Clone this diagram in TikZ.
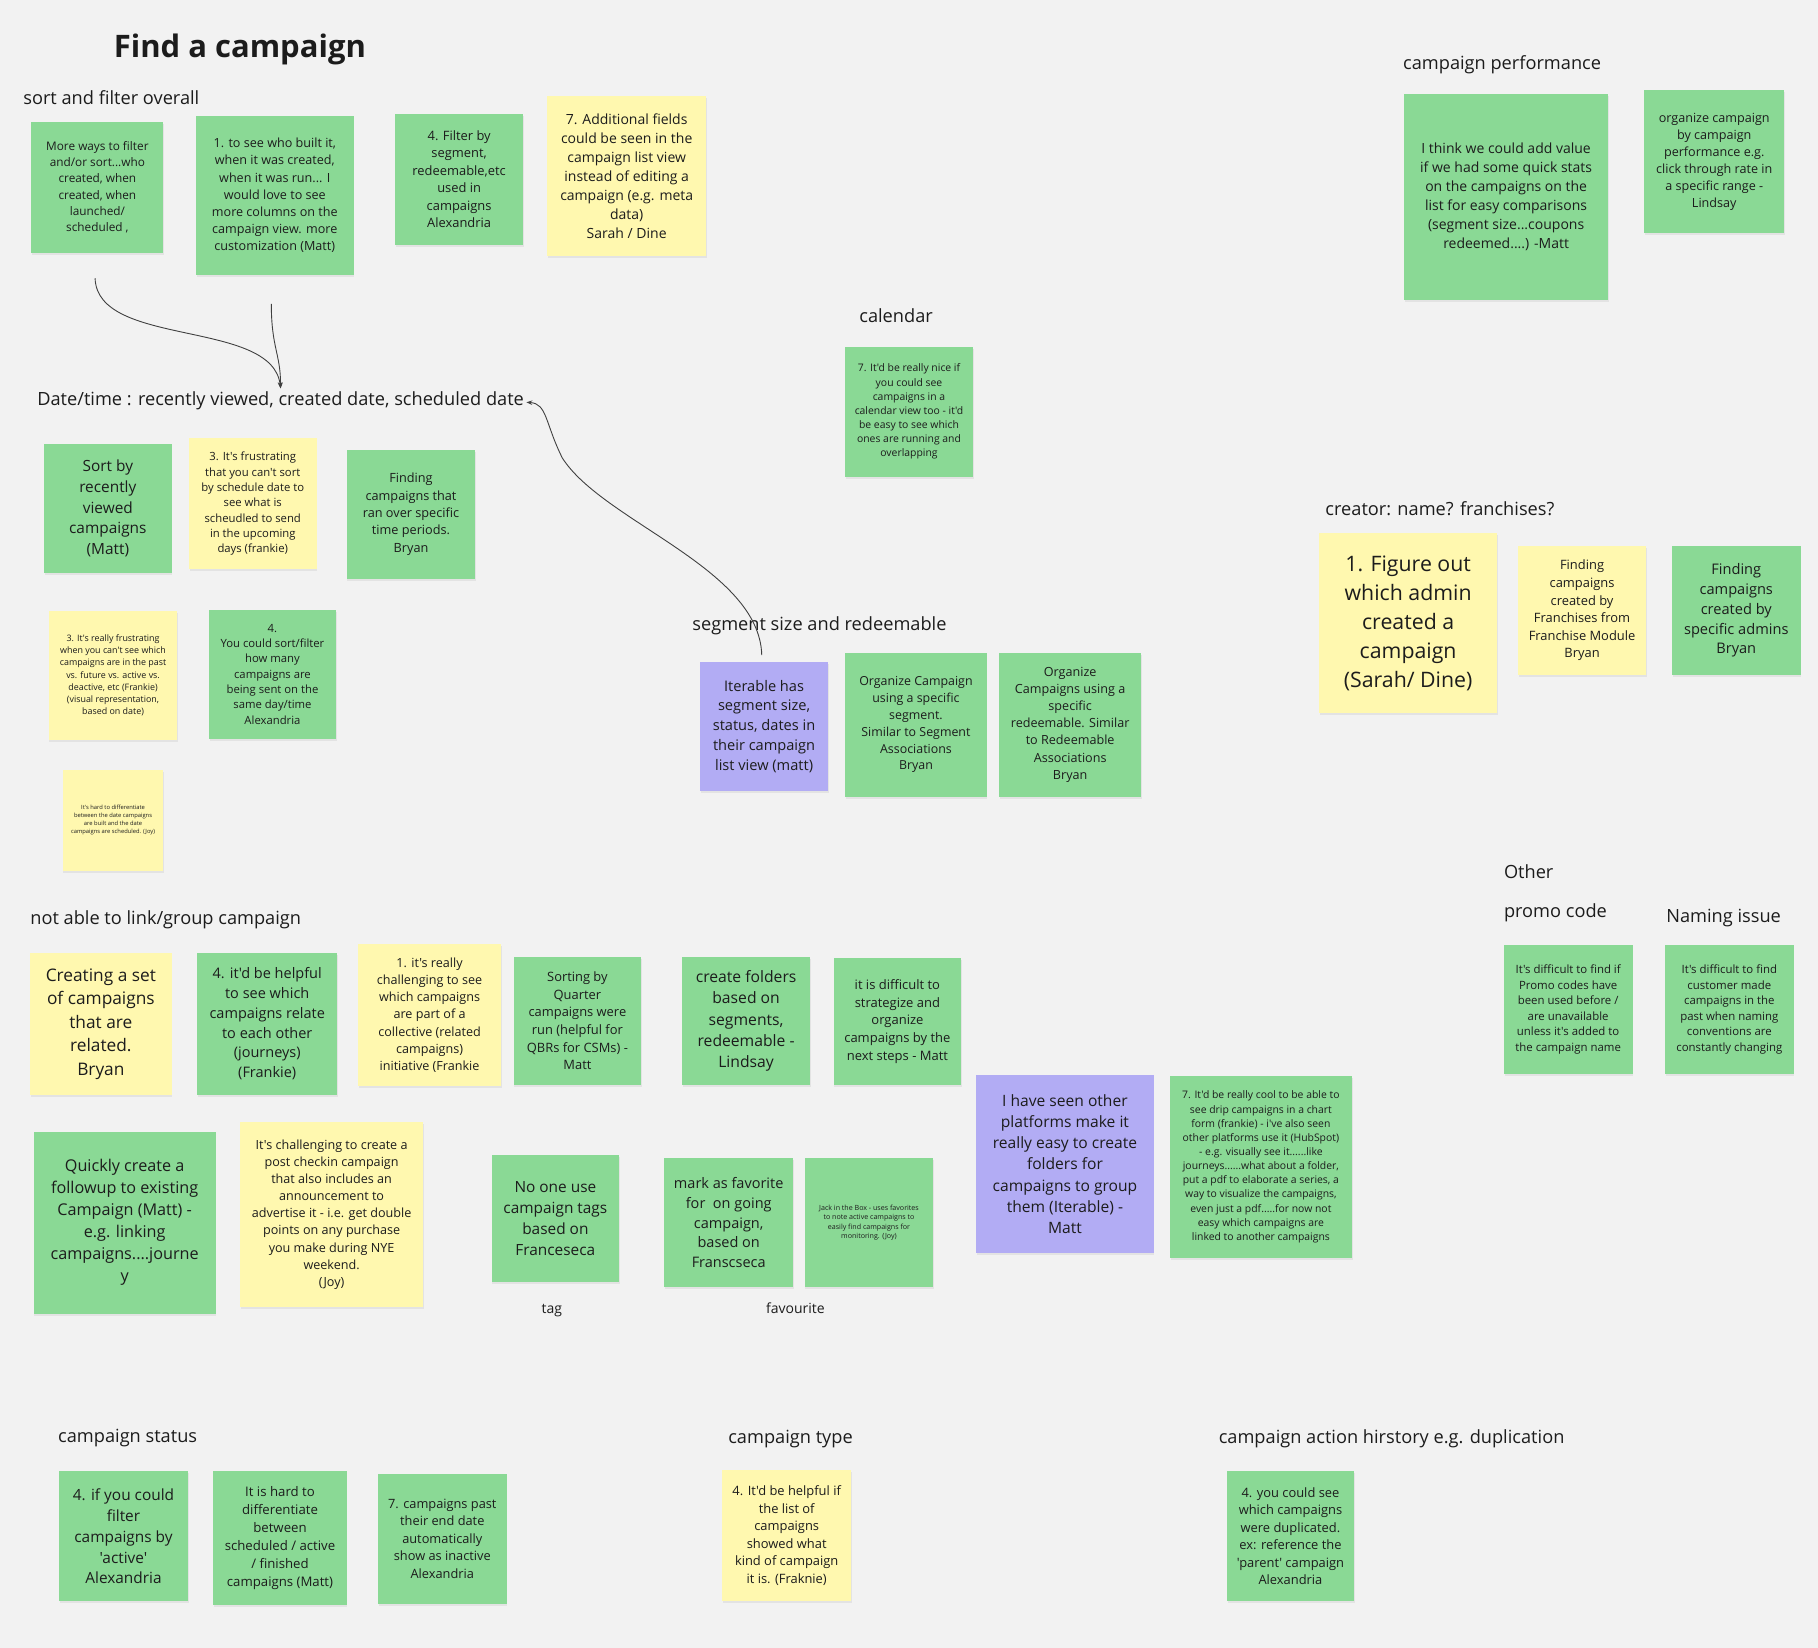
\documentclass[tikz,border=0pt]{standalone}
\usepackage{fontspec}
\setmainfont{Open Sans}[Ligatures=TeXOff]
\usetikzlibrary{shadows,arrows.meta}
\definecolor{bg}{HTML}{F2F2F2}
\definecolor{gs}{HTML}{8AD995}
\definecolor{ys}{HTML}{FFF8AF}
\definecolor{ps}{HTML}{B2ACF4}
\definecolor{ink}{HTML}{1C1C1C}
\tikzset{
  stickybox/.style={rectangle, inner sep=0pt, align=center, text=ink,
    drop shadow={shadow xshift=0.8pt, shadow yshift=-2pt, opacity=0.13}},
  hdr/.style={anchor=base west, inner sep=0pt, text=ink},
  conn/.style={draw=black!75, line width=0.9pt, -{Stealth[length=6pt,width=4.5pt]}},
}
\newcommand\sticky[8]{%
  \pgfmathsetmacro\stw{(#5-#3)*1.1594}%
  \pgfmathsetmacro\sth{(#6-#4)*1.1594}%
  \pgfmathsetmacro\stb{#7*1.36}%
  \node[stickybox, fill=#2, minimum width=\stw pt, minimum height=\sth pt,
    font=\fontsize{#7}{\stb}\selectfont] (#1) at ({(#3+#5)/2},{(#4+#6)/2}) {#8};%
}
\newcommand\hd[5]{%
  \node[hdr, font=\fontsize{#4}{#4}\selectfont] (#1) at (#2,#3) {#5};%
}
\begin{document}
\begin{tikzpicture}[x=1.1594pt, y=-1.1594pt]
\fill[bg] (0,0) rectangle (1568,1421);
\useasboundingbox (0,0) rectangle (1568,1421);

% titles and headers
\node[hdr, font=\fontsize{31}{31}\selectfont\bfseries] (title) at (98,50) {Find a campaign};
\hd{h1}{20}{90}{18.2}{sort and filter overall}
\hd{h2}{1210}{60}{18.2}{campaign performance}
\hd{h3}{741}{278}{18.2}{calendar}
\hd{dt}{32}{350}{18.2}{Date/time : recently viewed, created date, scheduled date}
\hd{h5}{1143}{445}{18.2}{creator: name? franchises?}
\hd{h6}{597}{544}{18.2}{segment size and redeemable}
\hd{h7}{1297}{758}{18.2}{Other}
\hd{h8}{1297}{791}{18.2}{promo code}
\hd{h9}{1437}{796}{18.2}{Naming issue}
\hd{h10}{26}{797}{18.2}{not able to link/group campaign}
\hd{h11}{50}{1244}{18.2}{campaign status}
\hd{h12}{628}{1245}{18.2}{campaign type}
\hd{h13}{1051}{1245}{18.2}{campaign action hirstory e.g. duplication}
\node[inner sep=0pt, text=ink, font=\fontsize{14}{14}\selectfont] (tag) at (476,1130) {tag};
\node[inner sep=0pt, text=ink, font=\fontsize{14}{14}\selectfont] (fav) at (686,1128) {favourite};

% sort and filter
\sticky{s1}{gs}{27}{105}{141}{218}{11.8}{More ways to filter\\and/or sort...who\\created, when\\created, when\\launched/\\scheduled ,}
\sticky{s2}{gs}{169}{100}{305}{237}{12.6}{1. to see who built it,\\when it was created,\\when it was run... I\\would love to see\\more columns on the\\campaign view. more\\customization (Matt)}
\sticky{s3}{gs}{341}{98}{451}{211}{12.9}{4. Filter by\\segment,\\redeemable,etc\\used in\\campaigns\\Alexandria}
\sticky{s4}{ys}{472}{83}{609}{221}{14}{7. Additional fields\\could be seen in the\\campaign list view\\instead of editing a\\campaign (e.g. meta\\data)\\Sarah / Dine}

% campaign performance
\sticky{p1}{gs}{1211}{81}{1387}{259}{14}{I think we could add value\\if we had some quick stats\\on the campaigns on the\\list for easy comparisons\\(segment size...coupons\\redeemed....) -Matt}
\sticky{p2}{gs}{1418}{78}{1539}{201}{12.6}{organize campaign\\by campaign\\performance e.g.\\click through rate in\\a specific range -\\Lindsay}

% calendar
\sticky{cal}{gs}{729}{299}{839}{411}{10.4}{7. It'd be really nice if\\you could see\\campaigns in a\\calendar view too - it'd\\be easy to see which\\ones are running and\\overlapping}

% date/time
\sticky{d1}{gs}{38}{383}{148}{494}{15.4}{Sort by\\recently\\viewed\\campaigns\\(Matt)}
\sticky{d2}{ys}{163}{378}{273}{491}{11.3}{3. It's frustrating\\that you can't sort\\by schedule date to\\see what is\\scheudled to send\\in the upcoming\\days (frankie)}
\sticky{d3}{gs}{299}{388}{410}{499}{12.7}{Finding\\campaigns that\\ran over specific\\time periods.\\Bryan}
\sticky{d4}{ys}{42}{527}{153}{638}{8.9}{3. It's really frustrating\\when you can't see which\\campaigns are in the past\\vs. future vs. active vs.\\deactive, etc (Frankie)\\(visual representation,\\based on date)}
\sticky{d5}{gs}{180}{526}{290}{637}{11.3}{4.\\You could sort/filter\\how many\\campaigns are\\being sent on the\\same day/time\\Alexandria}
\sticky{d6}{ys}{54}{664}{141}{751}{5.8}{It's hard to differentiate\\between the date campaigns\\are built and the date\\campaigns are scheduled. (Joy)}

% segment size
\sticky{g1}{ps}{604}{571}{714}{682}{14.6}{Iterable has\\segment size,\\status, dates in\\their campaign\\list view (matt)}
\sticky{g2}{gs}{729}{563}{851}{687}{12.4}{Organize Campaign\\using a specific\\segment.\\Similar to Segment\\Associations\\Bryan}
\sticky{g3}{gs}{862}{563}{984}{687}{12.6}{Organize\\Campaigns using a\\specific\\redeemable. Similar\\to Redeemable\\Associations\\Bryan}

% creator
\sticky{c1}{ys}{1138}{460}{1291}{615}{21.3}{1. Figure out\\which admin\\created a\\campaign\\(Sarah/ Dine)}
\sticky{c2}{ys}{1309}{471}{1420}{582}{12.9}{Finding\\campaigns\\created by\\Franchises from\\Franchise Module\\Bryan}
\sticky{c3}{gs}{1442}{471}{1553}{582}{14.6}{Finding\\campaigns\\created by\\specific admins\\Bryan}

% other
\sticky{o1}{gs}{1297}{815}{1408}{926}{11.4}{It's difficult to find if\\Promo codes have\\been used before /\\are unavailable\\unless it's added to\\the campaign name}
\sticky{o2}{gs}{1436}{815}{1547}{926}{11.4}{It's difficult to find\\customer made\\campaigns in the\\past when naming\\conventions are\\constantly changing}

% not able to link
\sticky{l1}{ys}{26}{822}{148}{944}{17.3}{Creating a set\\of campaigns\\that are\\related.\\Bryan}
\sticky{l2}{gs}{170}{822}{291}{944}{14.5}{4. it'd be helpful\\to see which\\campaigns relate\\to each other\\(journeys)\\(Frankie)}
\sticky{l3}{ys}{309}{814}{432}{937}{12.6}{1. it's really\\challenging to see\\which campaigns\\are part of a\\collective (related\\campaigns)\\initiative (Frankie}
\sticky{l4}{gs}{443}{825}{553}{936}{12.9}{Sorting by\\Quarter\\campaigns were\\run (helpful for\\QBRs for CSMs) -\\Matt}
\sticky{l5}{gs}{588}{825}{699}{936}{15.7}{create folders\\based on\\segments,\\redeemable -\\Lindsay}
\sticky{l6}{gs}{719}{826}{829}{936}{13}{it is difficult to\\strategize and\\organize\\campaigns by the\\next steps - Matt}

\sticky{m1}{gs}{29}{976}{186}{1133}{16.2}{Quickly create a\\followup to existing\\Campaign (Matt) -\\e.g. linking\\campaigns....journe\\y}
\sticky{m2}{ys}{207}{968}{365}{1127}{12.6}{It's challenging to create a\\post checkin campaign\\that also includes an\\announcement to\\advertise it - i.e. get double\\points on any purchase\\you make during NYE\\weekend.\\(Joy)}
\sticky{m3}{gs}{424}{996}{534}{1106}{15.4}{No one use\\campaign tags\\based on\\Franceseca}
\sticky{m4}{gs}{573}{999}{684}{1110}{14.5}{mark as favorite\\for\ \ on going\\campaign,\\based on\\Franscseca}
\sticky{m5}{gs}{694}{999}{805}{1110}{7.1}{Jack in the Box - uses favorites\\to note active campaigns to\\easily find campaigns for\\monitoring. (Joy)}
\sticky{m6}{ps}{842}{927}{995}{1081}{15.6}{I have seen other\\platforms make it\\really easy to create\\folders for\\campaigns to group\\them (Iterable) -\\Matt}
\sticky{m7}{gs}{1009}{928}{1166}{1085}{10.4}{7. It'd be really cool to be able to\\see drip campaigns in a chart\\form (frankie) - i've also seen\\other platforms use it (HubSpot)\\- e.g. visually see it......like\\journeys......what about a folder,\\put a pdf to elaborate a series, a\\way to visualize the campaigns,\\even just a pdf.....for now not\\easy which campaigns are\\linked to another campaigns}

% bottom
\sticky{b1}{gs}{51}{1269}{162}{1381}{15.4}{4. if you could\\filter\\campaigns by\\'active'\\Alexandria}
\sticky{b2}{gs}{184}{1269}{299}{1384}{13.2}{It is hard to\\differentiate\\between\\scheduled / active\\/ finished\\campaigns (Matt)}
\sticky{b3}{gs}{326}{1271}{437}{1383}{12.8}{7. campaigns past\\their end date\\automatically\\show as inactive\\Alexandria}
\sticky{t1}{ys}{623}{1268}{734}{1381}{12.9}{4. It'd be helpful if\\the list of\\campaigns\\showed what\\kind of campaign\\it is. (Fraknie)}
\sticky{k1}{gs}{1058}{1269}{1168}{1381}{12.9}{4. you could see\\which campaigns\\were duplicated.\\ex: reference the\\'parent' campaign\\Alexandria}

% connectors
\coordinate (a1) at (82,240);
\coordinate (a2) at (234,262);
\coordinate (aend) at (242,335);
\coordinate (a3) at (657,565);
\coordinate (a4) at (454,347);
\draw[conn] (a1) .. controls (84,300) and (235,275) .. (aend);
\draw[conn] (a2) .. controls (234,300) and (242,305) .. (aend);
\draw[conn] (a3) .. controls (655,490) and (520,450) .. (485,395) .. controls (470,365) and (472,348) .. (a4);
\end{tikzpicture}
\end{document}
